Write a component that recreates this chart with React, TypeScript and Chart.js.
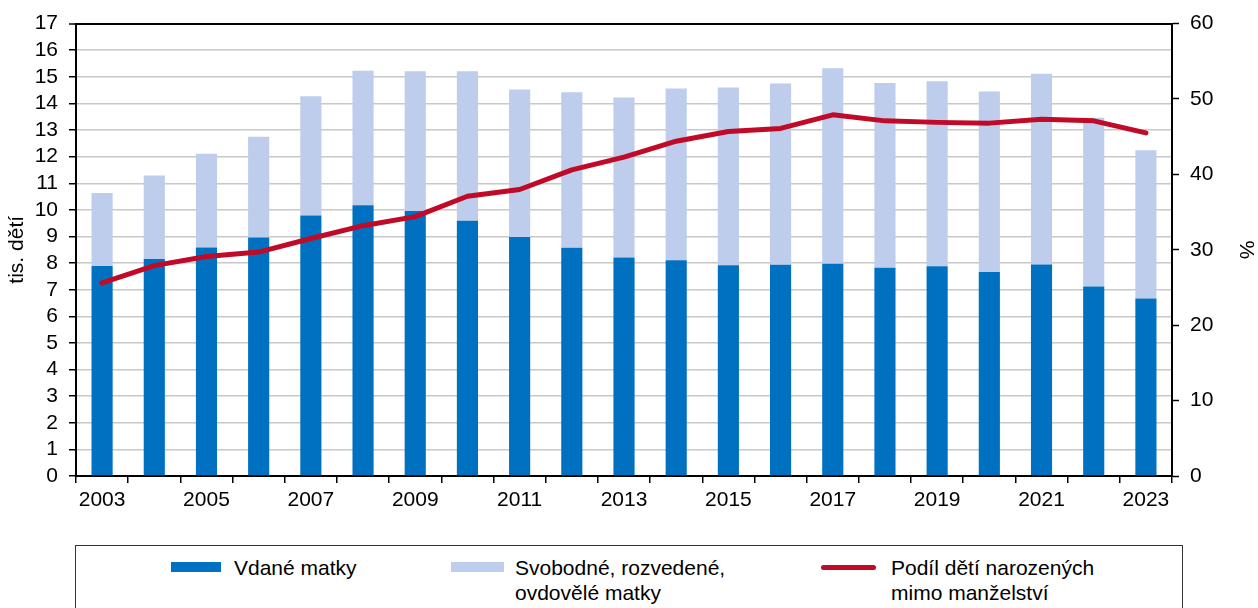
import React, { useEffect, useRef } from "react";
import { Chart, registerables } from "chart.js";

Chart.register(...registerables);

const years = ["2003","2004","2005","2006","2007","2008","2009","2010","2011","2012","2013","2014","2015","2016","2017","2018","2019","2020","2021","2022","2023"];
const married = [7.89, 8.15, 8.59, 8.96, 9.79, 10.17, 9.96, 9.59, 8.98, 8.58, 8.21, 8.11, 7.92, 7.94, 7.98, 7.83, 7.88, 7.67, 7.95, 7.12, 6.67];
const unmarried = [2.74, 3.14, 3.52, 3.79, 4.48, 5.06, 5.25, 5.62, 5.54, 5.84, 6.01, 6.45, 6.68, 6.81, 7.34, 6.94, 6.95, 6.78, 7.17, 6.34, 5.57];
const share = [25.6, 27.9, 29.1, 29.7, 31.5, 33.2, 34.4, 37.1, 38.0, 40.6, 42.3, 44.4, 45.7, 46.1, 47.9, 47.1, 46.9, 46.8, 47.3, 47.1, 45.5];

const seriesNames = ["Vdané matky", "Svobodné, rozvedené,\novdovělé matky", "Podíl dětí narozených\nmimo manželství"];
const leftTitle = "tis. dětí";
const rightTitle = "%";

const DARK = "#0070C0";
const LIGHT = "#BDCDEB";
const RED = "#C00A27";
const FONT = "'Liberation Sans', Arial, sans-serif";
const FS = 21;

export default function App() {
  const ref = useRef<HTMLCanvasElement | null>(null);

  useEffect(() => {
    if (!ref.current) return;
    Chart.defaults.font.family = FONT;
    Chart.defaults.color = "#000";
    const chart = new Chart(ref.current, {
      type: "bar",
      data: {
        labels: years,
        datasets: [
          {
            type: "line",
            label: seriesNames[2],
            data: share,
            yAxisID: "y2",
            borderColor: RED,
            backgroundColor: RED,
            borderWidth: 5,
            pointRadius: 0,
            tension: 0,
            borderCapStyle: "round",
            borderJoinStyle: "round",
            order: 0,
          } as any,
          {
            type: "bar",
            label: seriesNames[0],
            data: married,
            backgroundColor: DARK,
            stack: "s",
            yAxisID: "y",
            barPercentage: 0.405,
            categoryPercentage: 1,
            order: 1,
          },
          {
            type: "bar",
            label: seriesNames[1],
            data: unmarried,
            backgroundColor: LIGHT,
            stack: "s",
            yAxisID: "y",
            barPercentage: 0.405,
            categoryPercentage: 1,
            order: 1,
          },
        ],
      },
      options: {
        animation: false,
        responsive: false,
        maintainAspectRatio: false,
        layout: { padding: { top: 23, left: 0, right: 0, bottom: 0 } },
        plugins: { legend: { display: false }, tooltip: { enabled: false } },
        scales: {
          x: {
            stacked: true,
            grid: {
              display: true,
              drawOnChartArea: false,
              drawTicks: true,
              tickLength: 7,
              color: "#000",
              lineWidth: 1.5,
              offset: true,
            },
            border: { display: true, color: "#000", width: 2 },
            ticks: {
              autoSkip: false,
              maxRotation: 0,
              padding: 5,
              font: { size: FS },
              color: "#000",
              callback: (_v: any, i: number) => (i % 2 === 0 ? years[i] : ""),
            },
            afterFit: (s: any) => { s.height = 54; },
          },
          y: {
            stacked: true,
            position: "left",
            min: 0,
            max: 17,
            ticks: { stepSize: 1, autoSkip: false, padding: 11, font: { size: FS }, color: "#000" },
            grid: {
              color: (c: any) => (c.tick && c.tick.value === 17 ? "#000" : "#c8c8c8"),
              lineWidth: (c: any) => (c.tick && c.tick.value === 17 ? 2 : 1.5),
              tickColor: "#000",
              tickLength: 7,
              tickWidth: 1.5,
            },
            border: { display: true, color: "#000", width: 2 },
            title: { display: true, text: leftTitle, font: { size: FS }, color: "#000", padding: { top: 5, bottom: 0 } },
            afterFit: (s: any) => { s.width = 76; },
          },
          y2: {
            position: "right",
            min: 0,
            max: 60,
            ticks: { stepSize: 10, autoSkip: false, padding: 11, font: { size: FS }, color: "#000" },
            grid: {
              drawOnChartArea: false,
              tickColor: "#000",
              tickLength: 7,
              tickWidth: 1.5,
            },
            border: { display: true, color: "#000", width: 2 },
            title: { display: true, text: rightTitle, font: { size: FS }, color: "#000", padding: 0 },
            afterFit: (s: any) => { s.width = 86; },
          },
        },
      },
    });
    return () => chart.destroy();
  }, []);

  const txt: React.CSSProperties = {
    position: "absolute",
    fontFamily: FONT,
    fontSize: FS,
    lineHeight: "25px",
    color: "#000",
    whiteSpace: "pre",
  };

  return (
    <div style={{ position: "absolute", left: 0, top: 0, width: 1258, height: 608, overflow: "hidden", background: "#fff" }}>
      <canvas ref={ref} width={1258} height={530} style={{ position: "absolute", left: 0, top: 0, width: 1258, height: 530 }} />
      <div style={{ position: "absolute", left: 75, top: 545, width: 1108, height: 80, border: "1px solid #333", boxSizing: "border-box" }} />
      <div style={{ position: "absolute", left: 171, top: 562, width: 50, height: 10, background: DARK }} />
      <div style={{ ...txt, left: 234, top: 555 }}>{seriesNames[0]}</div>
      <div style={{ position: "absolute", left: 451, top: 562, width: 53, height: 10, background: LIGHT }} />
      <div style={{ ...txt, left: 515, top: 555 }}>{seriesNames[1]}</div>
      <div style={{ position: "absolute", left: 821, top: 565, width: 55, height: 5, borderRadius: 3, background: RED }} />
      <div style={{ ...txt, left: 891, top: 555 }}>{seriesNames[2]}</div>
    </div>
  );
}
